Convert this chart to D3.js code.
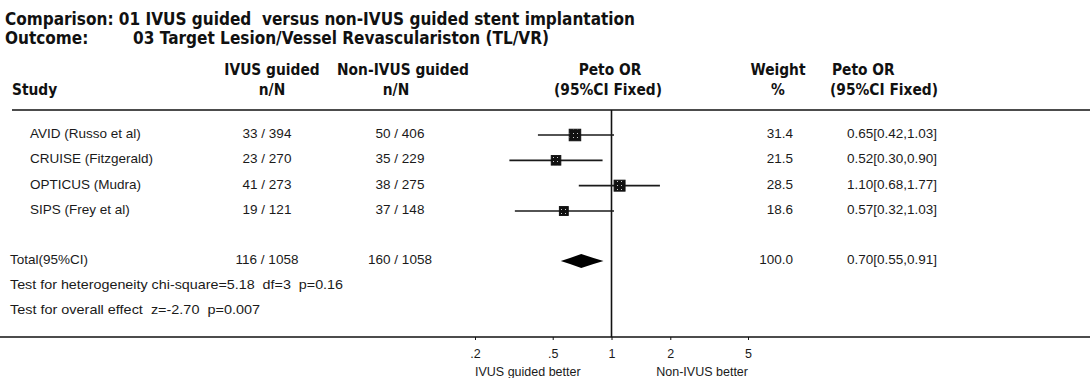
<!DOCTYPE html>
<html>
<head>
<meta charset="utf-8">
<script src="https://cdn.jsdelivr.net/npm/d3@7/dist/d3.min.js"></script>
<style>
  body { margin: 0; background: #fff; }
  svg { display: block; }
  .hd { font-family: "DejaVu Sans", sans-serif; font-weight: bold; fill: #111; }
  .tx { font-family: "Liberation Sans", Arial, sans-serif; font-size: 13.5px; fill: #1a1a1a; }
  .ax { font-family: "Liberation Sans", Arial, sans-serif; font-size: 12.5px; fill: #1a1a1a; }
</style>
</head>
<body>
<svg id="chart" width="1090" height="378"></svg>
<script>
// Trials pooled in the meta-analysis
const studies = ["AVID (Russo et al)", "CRUISE (Fitzgerald)", "OPTICUS (Mudra)", "SIPS (Frey et al)"];
const ivusEvents = [33, 23, 41, 19];
const ivusTotals = [394, 270, 273, 121];
const nonEvents = [50, 35, 38, 37];
const nonTotals = [406, 229, 275, 148];
const weights = [31.4, 21.5, 28.5, 18.6];
const petoOR = [0.65, 0.52, 1.10, 0.57];
const ciLow = [0.42, 0.30, 0.68, 0.32];
const ciHigh = [1.03, 0.90, 1.77, 1.03];

// Pooled (fixed effect) result
const totalLabel = "Total(95%CI)";
const totalIvus = [116, 1058];
const totalNon = [160, 1058];
const totalWeight = 100.0;
const totalOR = [0.70, 0.55, 0.91]; // estimate, lower, upper

// Log-scale axis ticks
const axisTicks = [0.2, 0.5, 1, 2, 5];
const tickLabels = [".2", ".5", "1", "2", "5"];

const titleLine = "Comparison: 01 IVUS guided\u00a0 versus non-IVUS guided stent implantation";
const outcomeKey = "Outcome:";
const outcomeText = "03 Target Lesion/Vessel Revasculariston (TL/VR)";
const heterogeneity = "Test for heterogeneity chi-square=5.18\u00a0 df=3\u00a0 p=0.16";
const overallEffect = "Test for overall effect\u00a0 z=-2.70\u00a0 p=0.007";
const favoursLeft = "IVUS guided better";
const favoursRight = "Non-IVUS better";

const W = 1090, H = 378;
const svg = d3.select("#chart");

// Box fill: dark square with light speckles
const defs = svg.append("defs");
const pat = defs.append("pattern").attr("id", "speckle")
  .attr("patternUnits", "userSpaceOnUse").attr("width", 4).attr("height", 4);
pat.append("rect").attr("width", 4).attr("height", 4).attr("fill", "#111");
pat.append("rect").attr("x", 1).attr("y", 1).attr("width", 1).attr("height", 1).attr("fill", "#ccc");

// Scales
const x = d3.scaleLog().domain([0.2, 5]).range([475, 748]);
const y = d3.scalePoint().domain(studies).range([135, 211]);
const yTotal = 261;
const boxSide = d3.scaleSqrt().domain([0, d3.max(weights)]).range([0, 11.5]);
const headTop = 110, axisY = 337;

const fmtW = d3.format(".1f");
const fmtOR = d3.format(".2f");

// Fit a label to a given width (squeezes bold labels into a narrow look)
function fitWidth(node, width) {
  node.setAttribute("textLength", width);
  node.setAttribute("lengthAdjust", "spacingAndGlyphs");
}

// Titles
const title = svg.append("text").attr("class", "hd").attr("x", 5).attr("y", 25)
  .style("font-size", "18px").text(titleLine);
const titleFactor = 630 / title.node().getComputedTextLength();
fitWidth(title.node(), 630);
const ok = svg.append("text").attr("class", "hd").attr("x", 5).attr("y", 44)
  .style("font-size", "18px").text(outcomeKey);
fitWidth(ok.node(), ok.node().getComputedTextLength() * titleFactor);
const ot = svg.append("text").attr("class", "hd").attr("x", 549).attr("y", 44)
  .attr("text-anchor", "end").style("font-size", "18px").text(outcomeText);
fitWidth(ot.node(), ot.node().getComputedTextLength() * titleFactor);

// Column headers
const headers = [
  { t: "Study", x: 12, y: 95, a: "start" },
  { t: "IVUS guided", x: 272, y: 75, a: "middle" },
  { t: "n/N", x: 272, y: 95, a: "middle" },
  { t: "Non-IVUS guided", x: 403, y: 75, a: "middle" },
  { t: "n/N", x: 396, y: 95, a: "middle" },
  { t: "Peto OR", x: 610, y: 75, a: "middle" },
  { t: "(95%CI Fixed)", x: 608, y: 95, a: "middle" },
  { t: "Weight", x: 778, y: 75, a: "middle" },
  { t: "%", x: 778, y: 95, a: "middle" },
  { t: "Peto OR", x: 832, y: 75, a: "start" },
  { t: "(95%CI Fixed)", x: 830, y: 95, a: "start" }
];
const headNodes = svg.append("g").selectAll("text").data(headers).join("text")
  .attr("class", "hd").style("font-size", "15px")
  .attr("x", d => d.x).attr("y", d => d.y).attr("text-anchor", d => d.a)
  .text(d => d.t).nodes();
headNodes.forEach(n => fitWidth(n, n.getComputedTextLength() * 0.92));

// Rules
svg.append("line").attr("x1", 12).attr("x2", W).attr("y1", headTop).attr("y2", headTop)
  .attr("stroke", "#111").attr("stroke-width", 1.5);
svg.append("line").attr("x1", 0).attr("x2", W).attr("y1", axisY).attr("y2", axisY)
  .attr("stroke", "#111").attr("stroke-width", 1.5);
svg.append("line").attr("x1", x(1)).attr("x2", x(1)).attr("y1", headTop).attr("y2", axisY)
  .attr("stroke", "#111").attr("stroke-width", 1.6);

// Study rows
const rows = studies.map((s, i) => ({
  s, e1: ivusEvents[i], n1: ivusTotals[i], e2: nonEvents[i], n2: nonTotals[i],
  w: weights[i], or: petoOR[i], lo: ciLow[i], hi: ciHigh[i]
}));
const rowG = svg.append("g").selectAll("g").data(rows).join("g");
rowG.append("text").attr("class", "tx").attr("x", 30).attr("y", d => y(d.s) + 3).text(d => d.s);
rowG.append("text").attr("class", "tx").attr("x", 267).attr("y", d => y(d.s) + 3)
  .attr("text-anchor", "middle").text(d => `${d.e1} / ${d.n1}`);
rowG.append("text").attr("class", "tx").attr("x", 400).attr("y", d => y(d.s) + 3)
  .attr("text-anchor", "middle").text(d => `${d.e2} / ${d.n2}`);
rowG.append("text").attr("class", "tx").attr("x", 793).attr("y", d => y(d.s) + 3)
  .attr("text-anchor", "end").text(d => fmtW(d.w));
rowG.append("text").attr("class", "tx").attr("x", 847).attr("y", d => y(d.s) + 3)
  .text(d => `${fmtOR(d.or)}[${fmtOR(d.lo)},${fmtOR(d.hi)}]`);
rowG.append("line")
  .attr("x1", d => x(d.lo)).attr("x2", d => x(d.hi))
  .attr("y1", d => y(d.s)).attr("y2", d => y(d.s))
  .attr("stroke", "#1a1a1a").attr("stroke-width", 1.7);
rowG.append("rect")
  .attr("x", d => x(d.or) - boxSide(d.w) / 2).attr("y", d => y(d.s) - boxSide(d.w) / 2)
  .attr("width", d => boxSide(d.w)).attr("height", d => boxSide(d.w))
  .attr("fill", "url(#speckle)").attr("stroke", "#111").attr("stroke-width", 1);

// Pooled row
svg.append("text").attr("class", "tx").attr("x", 10).attr("y", yTotal + 3).text(totalLabel);
svg.append("text").attr("class", "tx").attr("x", 267).attr("y", yTotal + 3)
  .attr("text-anchor", "middle").text(`${totalIvus[0]} / ${totalIvus[1]}`);
svg.append("text").attr("class", "tx").attr("x", 400).attr("y", yTotal + 3)
  .attr("text-anchor", "middle").text(`${totalNon[0]} / ${totalNon[1]}`);
svg.append("text").attr("class", "tx").attr("x", 793).attr("y", yTotal + 3)
  .attr("text-anchor", "end").text(fmtW(totalWeight));
svg.append("text").attr("class", "tx").attr("x", 847).attr("y", yTotal + 3)
  .text(`${fmtOR(totalOR[0])}[${fmtOR(totalOR[1])},${fmtOR(totalOR[2])}]`);

// Pooled diamond, pinched towards its tips
const [est, lo, hi] = totalOR.map(v => x(v));
const dh = 7;
svg.append("path")
  .attr("d", d3.line()([
    [lo, yTotal], [lo + (est - lo) * 0.45, yTotal - 3], [est, yTotal - dh],
    [hi - (hi - est) * 0.45, yTotal - 3], [hi, yTotal],
    [hi - (hi - est) * 0.45, yTotal + 3], [est, yTotal + dh],
    [lo + (est - lo) * 0.45, yTotal + 3]
  ]) + "Z")
  .attr("fill", "#000");

// Summary statistics
fitWidth(svg.append("text").attr("class", "tx").attr("x", 10).attr("y", 289)
  .text(heterogeneity).node(), 333);
fitWidth(svg.append("text").attr("class", "tx").attr("x", 10).attr("y", 314)
  .text(overallEffect).node(), 250);

// Axis
const axis = d3.axisBottom(x).tickValues(axisTicks)
  .tickFormat((d, i) => tickLabels[i]).tickSize(3).tickPadding(9);
const axG = svg.append("g").attr("transform", `translate(0,${axisY})`).call(axis);
axG.select(".domain").remove();
axG.selectAll("line").attr("stroke", "#111");
axG.selectAll("text").attr("class", "ax").attr("fill", "#1a1a1a")
  .style("font-family", "'Liberation Sans', Arial, sans-serif").style("font-size", "12.5px");

svg.append("text").attr("class", "ax").attr("x", x(0.2)).attr("y", 376).text(favoursLeft);
svg.append("text").attr("class", "ax").attr("x", x(5)).attr("y", 376)
  .attr("text-anchor", "end").text(favoursRight);
</script>
</body>
</html>
